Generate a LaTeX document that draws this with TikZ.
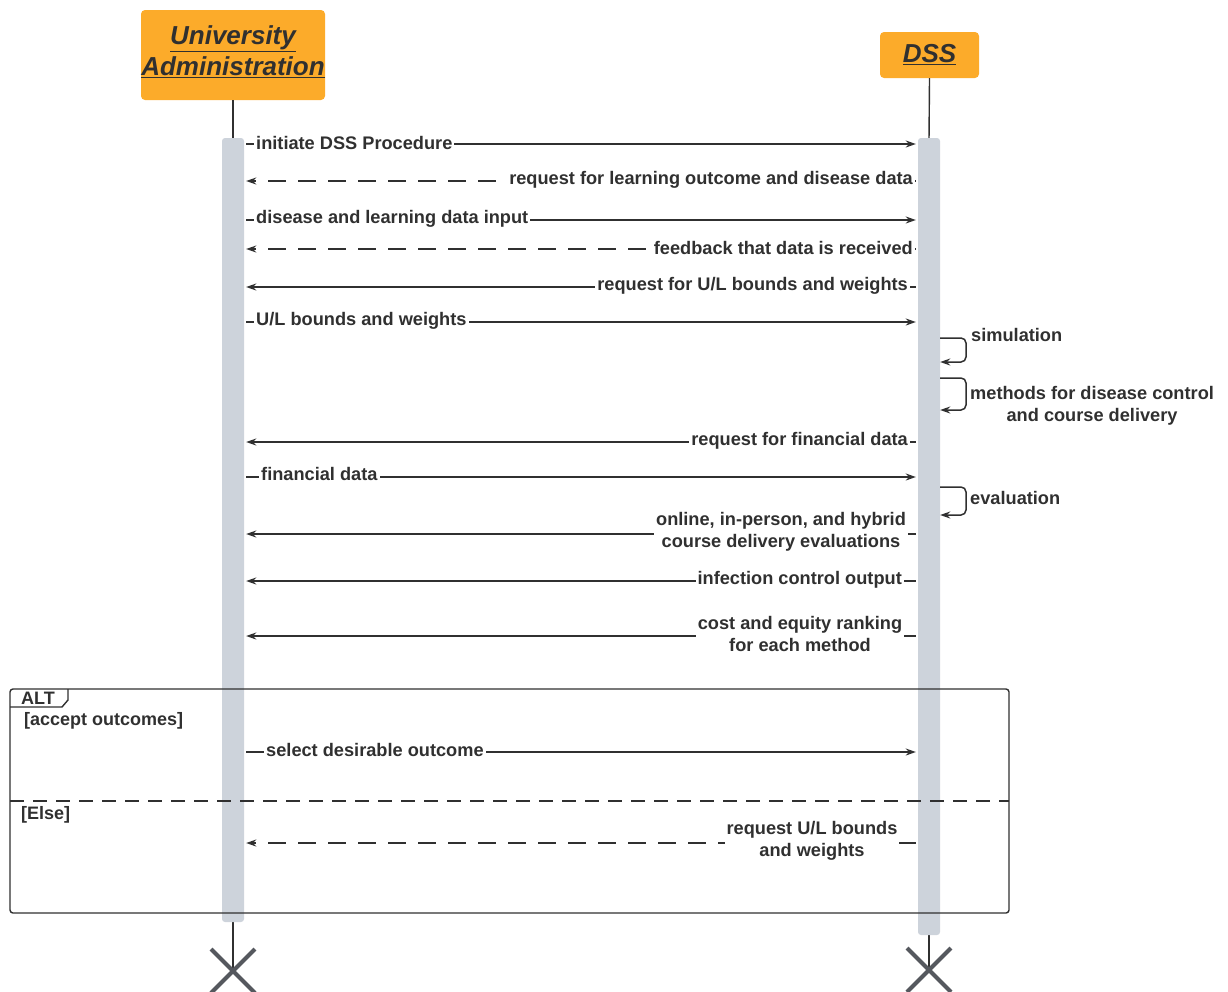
\documentclass[tikz,border=0pt]{standalone}
\usepackage{fontspec}
\setmainfont{Liberation Sans}
\usetikzlibrary{arrows.meta,calc}
\definecolor{orangebox}{RGB}{252,171,42}
\definecolor{barfill}{RGB}{205,211,219}
\definecolor{ink}{RGB}{48,48,48}
\definecolor{xgray}{RGB}{85,88,94}
\begin{document}
\begin{tikzpicture}[x=1pt,y=-1pt,
  actor/.style={fill=orangebox, rounded corners=4pt, inner sep=0pt, text=ink, align=center,
     font=\fontsize{26}{31}\selectfont\bfseries\itshape},
  bar/.style={fill=barfill, minimum width=22pt, rounded corners=3pt, inner sep=0pt},
  life/.style={draw=ink, line width=1.4pt},
  msg/.style={draw=ink, line width=1.5pt, shorten >=2pt, shorten <=2pt, -{Stealth[length=10pt,width=7pt]}},
  reply/.style={msg, dash pattern=on 18pt off 12pt},
  lbl/.style={fill=white, inner xsep=2pt, inner ysep=0pt, text=ink, align=center,
     font=\fontsize{18.2}{22}\selectfont\bfseries},
  slbl/.style={inner sep=0pt, text=ink, align=center, font=\fontsize{18.2}{22}\selectfont\bfseries},
  self/.style={draw=ink, line width=1.5pt, rounded corners=5pt, -{Stealth[length=10pt,width=7pt]}},
  xmark/.style={draw=xgray, line width=4pt},
  frame/.style={draw=ink, line width=1.4pt},
  guard/.style={inner sep=0pt, text=ink, font=\fontsize{18}{22}\selectfont\bfseries}
]
\useasboundingbox (0,0) rectangle (1228,991);

% actors
\node[actor, minimum width=184pt, minimum height=90pt] (ua) at (233,55) {};
\node[inner sep=0pt, text=ink, align=center, font=\fontsize{26}{31}\selectfont\bfseries\itshape] (uatext) at (233,52)
  {\underline{University}\\\underline{Administration}};
\node[actor, minimum width=99pt, minimum height=46pt] (dss) at (929.5,55) {\underline{DSS}};

% end coordinates
\coordinate (uaend) at (233,971);
\coordinate (dssend) at (929,970);

% lifelines
\draw[life] (ua.south) -- (233,140);
\draw[life] (dss.south) -- (929,140);
\draw[life] (233,920) -- (uaend);
\draw[life] (929,933) -- (dssend);

% activation bars
\node[bar, minimum height=784pt] (uabar) at (233,530) {};
\node[bar, minimum height=797pt] (dssbar) at (929,536.5) {};

% end marks
\draw[xmark] ($(uaend)+(-22,-22)$) -- ($(uaend)+(22,22)$) ($(uaend)+(22,-22)$) -- ($(uaend)+(-22,22)$);
\draw[xmark] ($(dssend)+(-22,-22)$) -- ($(dssend)+(22,22)$) ($(dssend)+(22,-22)$) -- ($(dssend)+(-22,22)$);

% messages
\draw[msg] (uabar.east |- 0,144) -- (dssbar.west |- 0,144);
\node[lbl, anchor=west] (m1) at (254,143) {initiate DSS Procedure};

\draw[reply] (dssbar.west |- 0,181) -- (uabar.east |- 0,181);
\node[lbl, anchor=east] (m2) at (915,180) {request for learning outcome and disease data};

\draw[msg] (uabar.east |- 0,220) -- (dssbar.west |- 0,220);
\node[lbl, anchor=west] (m3) at (254,219) {disease and learning data input};

\draw[reply] (dssbar.west |- 0,249) -- (uabar.east |- 0,249);
\node[lbl, anchor=east] (m4) at (915,248) {feedback that data is received};

\draw[msg] (dssbar.west |- 0,287) -- (uabar.east |- 0,287);
\node[lbl, anchor=east] (m5) at (910,286) {request for U/L bounds and weights};

\draw[msg] (uabar.east |- 0,322) -- (dssbar.west |- 0,322);
\node[lbl, anchor=west] (m6) at (254,321) {U/L bounds and weights};

% self messages
\draw[self] (dssbar.east |- 0,338) -- (966,338) -- (966,362) -- (dssbar.east |- 0,362);
\node[slbl, anchor=west] (s1) at (971,335) {simulation};
\draw[self] (dssbar.east |- 0,378) -- (966,378) -- (966,410) -- (dssbar.east |- 0,410);
\node[slbl, anchor=west] (s2) at (970,406) {methods for disease control\\and course delivery};

\draw[msg] (dssbar.west |- 0,442) -- (uabar.east |- 0,442);
\node[lbl, anchor=east] (m7) at (910,441) {request for financial data};

\draw[msg] (uabar.east |- 0,477) -- (dssbar.west |- 0,477);
\node[lbl, anchor=west] (m8) at (259,474) {financial data};

\draw[self] (dssbar.east |- 0,487) -- (966,487) -- (966,515) -- (dssbar.east |- 0,515);
\node[slbl, anchor=west] (s3) at (970,498) {evaluation};

\draw[msg] (dssbar.west |- 0,534) -- (uabar.east |- 0,534);
\node[lbl] (m9) at (781,532) {online, in-person, and hybrid\\course delivery evaluations};

\draw[msg] (dssbar.west |- 0,581) -- (uabar.east |- 0,581);
\node[lbl, anchor=east] (m10) at (904,580) {infection control output};

\draw[msg] (dssbar.west |- 0,636) -- (uabar.east |- 0,636);
\node[lbl] (m11) at (800,634) {cost and equity ranking\\for each method};

% ALT frame
\draw[frame, rounded corners=3pt] (10,689) rectangle (1009,913);
\draw[frame] (10,707) -- (62,707) -- (68,700) -- (68,689);
\node[guard] (alt) at (38,698.5) {ALT};
\node[guard, anchor=west] (g1) at (24,721) {[accept outcomes]};
\draw[frame, dash pattern=on 14pt off 9pt] (10,801) -- (1009,801);
\node[guard, anchor=west] (g2) at (21,815) {[Else]};

\draw[msg] (uabar.east |- 0,752) -- (dssbar.west |- 0,752);
\node[lbl, anchor=west] (m12) at (264,750) {select desirable outcome};

\draw[reply] (dssbar.west |- 0,843) -- (uabar.east |- 0,843);
\node[lbl] (m13) at (812,841) {request U/L bounds\\and weights};
\end{tikzpicture}
\end{document}
